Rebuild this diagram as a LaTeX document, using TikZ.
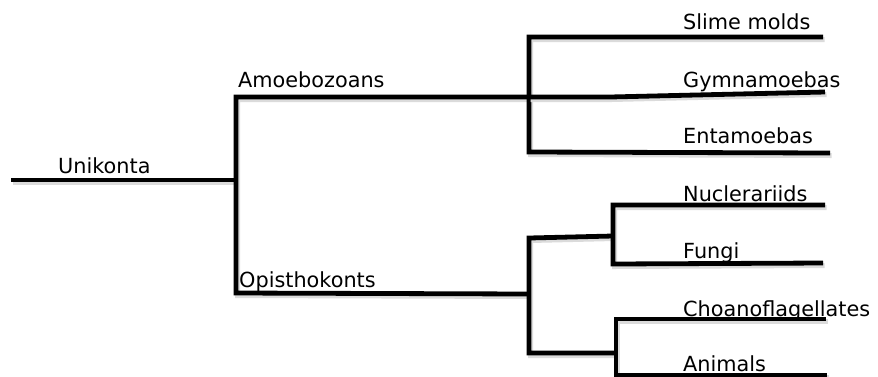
\documentclass[tikz,border=0pt]{standalone}
\usepackage{fontspec}
\setmainfont{DejaVu Sans}
\begin{document}
\begin{tikzpicture}[x=1pt,y=-1pt,
  branch/.style={line width=4.8pt, line join=miter, black,
    preaction={draw=black!14, line width=5pt,
      transform canvas={shift={(1.5pt,-2.5pt)}}}},
  lbl/.style={anchor=base west, inner sep=0pt, font=\fontsize{20.8}{25}\selectfont}]
\useasboundingbox[fill=white] (0,0) rectangle (878,376);

% labels
\node[lbl] (uni)   at (58,173)  {Unikonta};
\node[lbl] (amo)   at (238,87)  {Amoebozoans};
\node[lbl] (opi)   at (239,287) {Opisthokonts};
\node[lbl] (slime) at (683,29)  {Slime molds};
\node[lbl] (gym)   at (683,87)  {Gymnamoebas};
\node[lbl] (ent)   at (683,143) {Entamoebas};
\node[lbl] (nuc)   at (683,201) {Nuclerariids};
\node[lbl] (fun)   at (683,258) {Fungi};
\node[lbl] (cho)   at (683,316) {Choanoflagellates};
\node[lbl] (ani)   at (683,371) {Animals};

% branch points
\coordinate (root)  at (11,180);
\coordinate (rootR) at (236,180);
\coordinate (amoL)  at (236,97);
\coordinate (amoR)  at (529,97);
\coordinate (opiL)  at (236,293);
\coordinate (opiR)  at (529,294);
\coordinate (slL)   at (529,37);
\coordinate (slR)   at (823,37);
\coordinate (gyM)   at (610,97);
\coordinate (gyR)   at (825,92);
\coordinate (enL)   at (529,152);
\coordinate (enR)   at (830,153);
\coordinate (opT)   at (529,238);
\coordinate (opB)   at (529,353);
\coordinate (fnT)   at (613,236);
\coordinate (nuL)   at (613,205);
\coordinate (nuR)   at (825,205);
\coordinate (fuL)   at (613,264);
\coordinate (fuR)   at (823,263);
\coordinate (anT)   at (616,353);
\coordinate (chL)   at (616,319);
\coordinate (chR)   at (826,319);
\coordinate (anL)   at (616,380);
\coordinate (anR)   at (827,375);
\coordinate (anJ)   at (616,375);

% tree
\draw[branch] (root) -- (rootR);
\draw[branch] (amoR) -- (amoL) -- (opiL) -- (opiR);
\draw[branch] (slR) -- (slL) -- (enL) -- (enR);
\draw[branch] (amoR) -- (gyM) -- (gyR);
\draw[branch] (fnT) -- (opT) -- (opB) -- (anT);
\draw[branch] (nuR) -- (nuL) -- (fuL) -- (fuR);
\draw[branch] (chR) -- (chL) -- (anL);
\draw[branch] (anJ) -- (anR);
\end{tikzpicture}
\end{document}
